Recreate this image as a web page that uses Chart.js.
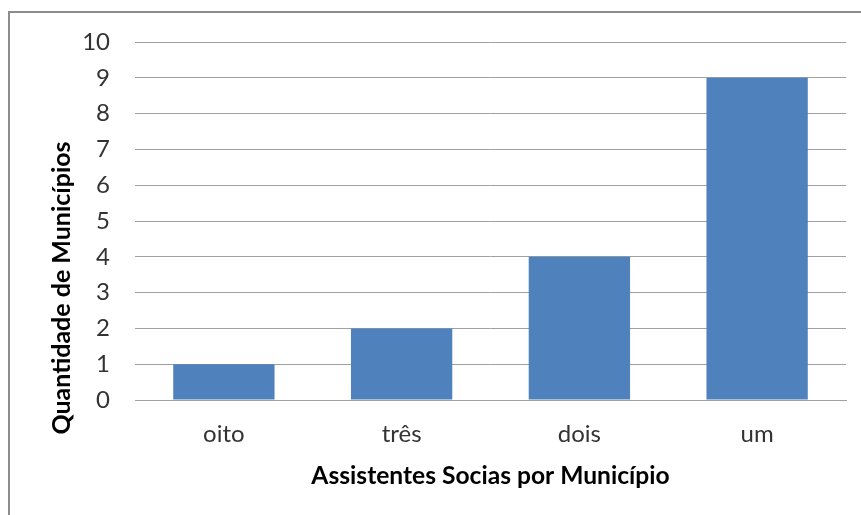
<!DOCTYPE html>
<html>
<head>
<meta charset="utf-8">
<script src="https://cdn.jsdelivr.net/npm/chart.js@4.4.0/dist/chart.umd.min.js"></script>
<style>
  html, body { margin: 0; padding: 0; background: #fff; overflow: hidden; }
  #frame { position: absolute; left: 8px; top: 11px; width: 900px; height: 600px; border: 2px solid #8c8c8c; }
  #wrap { position: absolute; left: 0; top: 0; width: 861px; height: 515px; }
</style>
</head>
<body>
<div id="frame"></div>
<div id="wrap"><canvas id="barChart"></canvas></div>
<script>
const categories = ['oito', 'três', 'dois', 'um'];
const municipios = [1, 2, 4, 9];
const yTicks = [0, 1, 2, 3, 4, 5, 6, 7, 8, 9, 10];

const yTitle = 'Quantidade de Municípios';
const xTitle = 'Assistentes Socias por Município';

const fontFamily = "Lato, 'Open Sans', sans-serif";

// y title sits lower than the plot middle in the original, so draw it by hand
const yTitlePlugin = {
    id: 'yTitle',
    afterDraw(chart) {
        const c = chart.ctx;
        const area = chart.chartArea;
        c.save();
        c.translate(62, area.bottom - 112);
        c.rotate(-Math.PI / 2);
        c.font = "bold 25px " + fontFamily;
        c.fillStyle = '#000';
        c.textAlign = 'center';
        c.textBaseline = 'middle';
        c.fillText(yTitle, 0, 0);
        c.restore();
    }
};

window.addEventListener("DOMContentLoaded", () => {
    const ctx = document.getElementById("barChart").getContext("2d");

    window.myChart = new Chart(ctx, {
        type: 'bar',
        data: {
            labels: categories,
            datasets: [
                {
                    label: yTitle,
                    data: municipios,
                    backgroundColor: '#4f81bd',
                    borderWidth: 0,
                    barPercentage: 0.57,
                    categoryPercentage: 1.0
                }
            ]
        },
        plugins: [yTitlePlugin],
        options: {
            responsive: true,
            maintainAspectRatio: false,
            animation: false,
            layout: { padding: { left: 48, top: 42, right: 15, bottom: 20 } },
            plugins: {
                legend: { display: false },
                tooltip: { enabled: false }
            },
            scales: {
                x: {
                    grid: { display: false },
                    border: { color: '#a0a0a0', width: 1 },
                    ticks: { color: '#333', font: { family: fontFamily, size: 24 }, padding: 12 },
                    title: {
                        display: true,
                        text: xTitle,
                        color: '#000',
                        font: { family: fontFamily, size: 24.6, weight: 'bold' },
                        padding: { top: 4 }
                    },
                    afterFit: scale => { scale.height = 95; }
                },
                y: {
                    min: 0,
                    max: 10,
                    afterBuildTicks: scale => { scale.ticks = yTicks.map(v => ({ value: v })); },
                    grid: { color: '#a0a0a0', drawTicks: false },
                    border: { display: false },
                    ticks: { color: '#333', font: { family: fontFamily, size: 24 }, padding: 25 },
                    title: { display: false },
                    afterFit: scale => { scale.width = 87; }
                }
            }
        }
    });
});
</script>
</body>
</html>
